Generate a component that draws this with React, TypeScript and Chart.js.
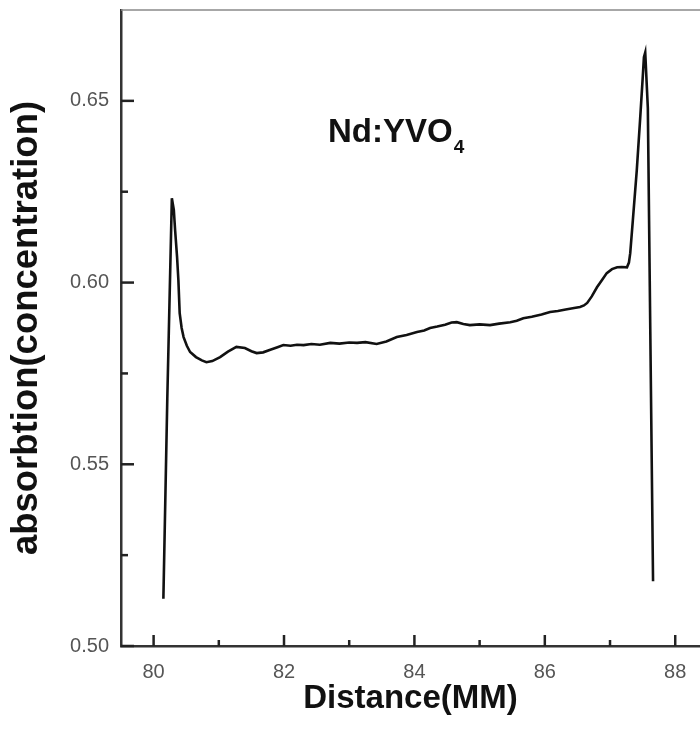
import React, { useEffect, useRef } from "react";
import { Chart, registerables } from "chart.js";

Chart.register(...registerables);

const distance = [
  80.15, 80.21, 80.28, 80.31, 80.33, 80.36, 80.38, 80.40, 80.43, 80.46, 80.51, 80.56, 80.65, 80.74, 80.81,
  80.90, 81.02, 81.14, 81.27, 81.40, 81.50, 81.58, 81.68, 81.79, 81.90, 81.99, 82.10, 82.20, 82.30, 82.42,
  82.55, 82.71, 82.85, 83.00, 83.12, 83.25, 83.42, 83.57, 83.73, 83.88, 84.04, 84.15, 84.24, 84.35, 84.47,
  84.57, 84.65, 84.75, 84.85, 85.00, 85.16, 85.30, 85.47, 85.57, 85.67, 85.80, 85.95, 86.08, 86.20, 86.32,
  86.45, 86.54, 86.60, 86.65, 86.72, 86.80, 86.88, 86.95, 87.03, 87.11, 87.18, 87.26, 87.29, 87.31, 87.35,
  87.41, 87.46, 87.50, 87.52, 87.54, 87.58, 87.66,
];

const absorption = [
  0.513, 0.568, 0.6232, 0.62, 0.6144, 0.607, 0.6007, 0.5916, 0.5875, 0.585, 0.5826, 0.5809, 0.5795, 0.5786, 0.5781,
  0.5784, 0.5795, 0.581, 0.5823, 0.582, 0.5811, 0.5806, 0.5808, 0.5815, 0.5822, 0.5828, 0.5826, 0.5829, 0.5828, 0.5831,
  0.5829, 0.5834, 0.5832, 0.5835, 0.5834, 0.5836, 0.5831, 0.5838, 0.585, 0.5856, 0.5864, 0.5868, 0.5875, 0.5879, 0.5884,
  0.589, 0.5891, 0.5886, 0.5883, 0.5885, 0.5883, 0.5887, 0.5891, 0.5895, 0.5902, 0.5906, 0.5912, 0.5919, 0.5922, 0.5926,
  0.593, 0.5933, 0.5937, 0.5944, 0.5962, 0.5987, 0.6008, 0.6026, 0.6037, 0.6042, 0.6043, 0.6042, 0.6055, 0.6081, 0.6171,
  0.6308, 0.6445, 0.656, 0.662, 0.6633, 0.648, 0.5178,
];

const xTickValues = [80, 82, 84, 86, 88];
const xMinorValues = [81, 83, 85, 87];
const yTickValues = [0.5, 0.55, 0.6, 0.65];
const yMinorValues = [0.525, 0.575, 0.625];

const xTitle = "Distance(MM)";
const yTitle = "absorbtion(concentration)";
const labelMain = "Nd:YVO";
const labelSub = "4";

const FONT = "'Liberation Sans', Arial, sans-serif";

const decorPlugin = {
  id: "decor",
  afterDraw(chart: any) {
    const { ctx, chartArea, scales } = chart;
    const xs = scales.x;
    const ys = scales.y;
    ctx.save();
    // top frame line
    ctx.strokeStyle = "#8a8a8a";
    ctx.lineWidth = 1.5;
    ctx.beginPath();
    ctx.moveTo(chartArea.left, chartArea.top);
    ctx.lineTo(chart.width, chartArea.top);
    ctx.stroke();
    // inward ticks
    ctx.strokeStyle = "#222";
    ctx.lineWidth = 2.5;
    const tick = (x1: number, y1: number, x2: number, y2: number) => {
      ctx.beginPath();
      ctx.moveTo(x1, y1);
      ctx.lineTo(x2, y2);
      ctx.stroke();
    };
    xTickValues.forEach((v) => {
      const p = xs.getPixelForValue(v);
      tick(p, chartArea.bottom, p, chartArea.bottom - 11);
    });
    xMinorValues.forEach((v) => {
      const p = xs.getPixelForValue(v);
      tick(p, chartArea.bottom, p, chartArea.bottom - 6);
    });
    yTickValues.forEach((v) => {
      const p = ys.getPixelForValue(v);
      tick(chartArea.left, p, chartArea.left + 13, p);
    });
    yMinorValues.forEach((v) => {
      const p = ys.getPixelForValue(v);
      tick(chartArea.left, p, chartArea.left + 7, p);
    });
    // annotation
    ctx.fillStyle = "#111";
    ctx.textBaseline = "alphabetic";
    ctx.textAlign = "left";
    ctx.font = `bold 33px ${FONT}`;
    const ax = 328;
    const ay = 142;
    ctx.fillText(labelMain, ax, ay);
    const w = ctx.measureText(labelMain).width;
    ctx.font = `bold 19px ${FONT}`;
    ctx.fillText(labelSub, ax + w + 1, ay + 11);
    ctx.restore();
  },
};

export default function App() {
  const ref = useRef<HTMLCanvasElement | null>(null);
  useEffect(() => {
    if (!ref.current) return;
    const points = distance.map((d, i) => ({ x: d, y: absorption[i] }));
    const chart = new Chart(ref.current, {
      type: "line",
      data: {
        datasets: [
          {
            data: points,
            borderColor: "#111",
            borderWidth: 2.6,
            pointRadius: 0,
            tension: 0,
            fill: false,
          },
        ],
      },
      options: {
        animation: false,
        responsive: false,
        devicePixelRatio: 1,
        layout: { padding: { left: 0, right: 0, top: 10, bottom: 0 } },
        plugins: { legend: { display: false }, tooltip: { enabled: false } },
        scales: {
          x: {
            type: "linear",
            min: 79.5,
            max: 88.38,
            grid: { display: false, drawTicks: false },
            border: { display: true, color: "#333", width: 2.5 },
            afterBuildTicks: (s: any) => {
              s.ticks = xTickValues.map((v) => ({ value: v }));
            },
            afterFit: (s: any) => {
              s.height = 86;
              s.paddingLeft = 0;
              s.paddingRight = 0;
            },
            ticks: {
              color: "#555",
              font: { family: FONT, size: 20 },
              padding: 14,
              maxRotation: 0,
              callback: (v: any) => String(v),
            },
            title: {
              display: true,
              text: xTitle,
              color: "#111",
              font: { family: FONT, size: 33, weight: "bold" },
              padding: { top: 0, bottom: 13 },
            },
          },
          y: {
            type: "linear",
            min: 0.5,
            max: 0.675,
            grid: { display: false, drawTicks: false },
            border: { display: true, color: "#333", width: 2.5 },
            afterBuildTicks: (s: any) => {
              s.ticks = yTickValues.map((v) => ({ value: v }));
            },
            afterFit: (s: any) => {
              s.width = 121;
              s.paddingTop = 0;
              s.paddingBottom = 0;
            },
            ticks: {
              color: "#555",
              font: { family: FONT, size: 20 },
              padding: 12,
              callback: (v: any) => Number(v).toFixed(2),
            },
            title: {
              display: true,
              text: yTitle,
              color: "#111",
              font: { family: FONT, size: 36.5, weight: "bold" },
              padding: { top: 5, bottom: 0 },
            },
          },
        },
      },
      plugins: [decorPlugin],
    });
    return () => chart.destroy();
  }, []);
  return (
    <div style={{ position: "absolute", left: 0, top: 0, width: 700, height: 732, background: "#fff" }}>
      <canvas ref={ref} width={700} height={732} style={{ display: "block" }} />
    </div>
  );
}
